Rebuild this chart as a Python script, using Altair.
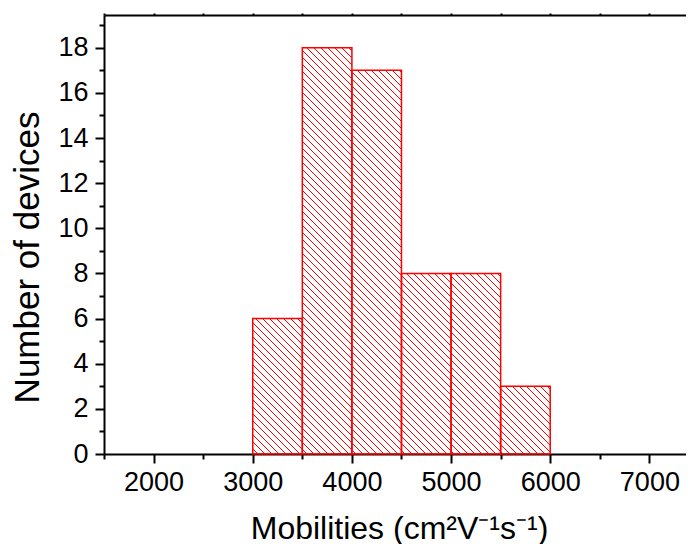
import math
import altair as alt
import pandas as pd

# ---- data ----
bin_start = [3000, 3500, 4000, 4500, 5000, 5500]
bin_end = [3500, 4000, 4500, 5000, 5500, 6000]
counts = [6, 18, 17, 8, 8, 3]

x_tick_values = [1500, 2000, 2500, 3000, 3500, 4000, 4500, 5000, 5500, 6000, 6500, 7000]
y_tick_values = list(range(0, 20))

X_DOMAIN = [1500, 7450]
Y_DOMAIN = [0, 19.45]
W, H = 590, 439
HATCH_SPACING = 7  # px, horizontal distance between hatch lines

bars = pd.DataFrame({"start": bin_start, "end": bin_end, "count": counts})

# hatch segments ("\" direction) derived from each bar, clipped to the bar
px = W / (X_DOMAIN[1] - X_DOMAIN[0])
py = H / (Y_DOMAIN[1] - Y_DOMAIN[0])
segs = []
for x0, x1, c in zip(bin_start, bin_end, counts):
    u0 = (x0 - X_DOMAIN[0]) * px
    u1 = (x1 - X_DOMAIN[0]) * px
    h = c * py
    k0 = int(math.floor(u0 / HATCH_SPACING)) + 1
    k1 = int(math.floor((u1 + h) / HATCH_SPACING))
    for k in range(k0, k1 + 1):
        cc = k * HATCH_SPACING
        ua = max(u0, cc - h)
        ub = min(u1, cc)
        if ub - ua > 0.3:
            segs.append({
                "x": X_DOMAIN[0] + ua / px, "y": (cc - ua) / py,
                "x2": X_DOMAIN[0] + ub / px, "y2": (cc - ub) / py,
            })
hatch_df = pd.DataFrame(segs)

xscale = alt.Scale(domain=X_DOMAIN, nice=False, zero=False)
yscale = alt.Scale(domain=Y_DOMAIN, nice=False)

top_axis = alt.Axis(
    orient="top", values=x_tick_values, labels=False, title=None,
    tickSize=2, tickWidth=2, tickColor="black",
    domainColor="black", domainWidth=2, grid=False,
)

bottom_axis = alt.Axis(
    orient="bottom", values=x_tick_values, format="d",
    labelExpr="datum.value % 1000 === 0 ? datum.label : ''",
    tickSize={"condition": {"test": "datum.value % 1000 === 0", "value": 9}, "value": 5},
    tickWidth=2, tickColor="black", domainColor="black", domainWidth=2,
    labelFontSize=27, labelColor="black", labelPadding=6, grid=False,
    title="Mobilities (cm²V⁻¹s⁻¹)", titleFontSize=32, titleFontWeight="normal",
    titleColor="black", titleBaseline="alphabetic", titleY=84,
)

left_axis = alt.Axis(
    orient="left", values=y_tick_values,
    labelExpr="datum.value % 2 === 0 ? datum.label : ''",
    tickSize={"condition": {"test": "datum.value % 2 === 0", "value": 9}, "value": 5},
    tickWidth=2, tickColor="black", domainColor="black", domainWidth=2,
    labelFontSize=27, labelColor="black", labelPadding=7, grid=False,
    title="Number of devices", titleFontSize=35, titleFontWeight="normal",
    titleColor="black", titleBaseline="alphabetic", titleX=-66, titleY=242,
)

hatch = alt.Chart(hatch_df).mark_rule(color="#ff0000", strokeWidth=1).encode(
    x=alt.X("x:Q", scale=xscale, axis=top_axis),
    x2="x2:Q",
    y=alt.Y("y:Q", scale=yscale, axis=left_axis),
    y2="y2:Q",
)

bar_outline = alt.Chart(bars).mark_rect(
    fillOpacity=0, stroke="#ff0000", strokeWidth=1.5
).encode(
    x=alt.X("start:Q", scale=xscale, axis=bottom_axis),
    x2="end:Q",
    y=alt.Y("count:Q", scale=yscale, axis=left_axis),
    y2=alt.datum(0),
)

chart = alt.layer(hatch, bar_outline).properties(
    width=W, height=H,
    autosize=alt.AutoSizeParams(type="none"),
    padding={"left": 96, "top": 7, "right": -8, "bottom": 90},
).configure(
    font="Liberation Sans",
    background="white",
).configure_view(stroke=None)

chart.save("out.html", embed_options={"renderer": "svg", "actions": False})
